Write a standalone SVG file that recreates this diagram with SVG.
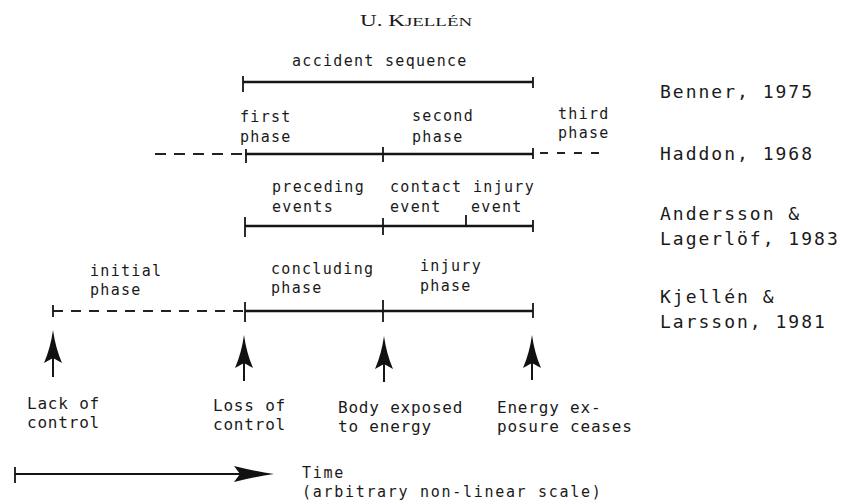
<svg xmlns="http://www.w3.org/2000/svg" width="844" height="504" viewBox="0 0 844 504">
<style>
  .t { font-family: "DejaVu Sans Mono", "Liberation Mono", monospace; fill: #1a1a1a; }
  .ph { font-size: 15px; letter-spacing: 1.3px; }
  .ev { font-size: 16px; letter-spacing: 0.8px; }
  .tm { font-size: 15px; letter-spacing: 1.7px; }
  .au { font-size: 18px; letter-spacing: 2px; }
  .ttl { font-family: "Liberation Serif", "Times New Roman", serif; fill: #1a1a1a; }
  .solid { stroke: #151515; stroke-width: 2.6; fill: none; }
  .dash { stroke: #222; stroke-width: 2; fill: none; }
  .tick { stroke: #151515; stroke-width: 1.8; fill: none; }
  .shaft { stroke: #151515; stroke-width: 2; fill: none; }
  .head { fill: #111; stroke: none; }
</style>
<defs>
  <path id="upHead" d="M0,0 Q2.5,18 9,33 L0,28 L-9,33 Q-2.5,18 0,0 Z"/>
</defs>
<rect width="844" height="504" fill="#ffffff"/>

<g id="title">
  <text class="ttl" x="360" y="26" font-size="16.5" textLength="45" lengthAdjust="spacingAndGlyphs">U. K</text>
  <text class="ttl" x="405" y="26" font-size="12" textLength="67" lengthAdjust="spacingAndGlyphs">JELLÉN</text>
</g>

<g id="connectors">
  <!-- Benner 1975 -->
  <line class="solid" x1="243" y1="82" x2="533" y2="82"/>
  <line class="tick" x1="243" y1="76" x2="243" y2="92"/>
  <line class="tick" x1="533" y1="77" x2="533" y2="88"/>
  <!-- Haddon 1968 -->
  <line class="dash" x1="155" y1="154" x2="243" y2="154" stroke-dasharray="11 8"/>
  <line class="solid" x1="245" y1="154" x2="533" y2="154"/>
  <line class="dash" x1="540" y1="153" x2="603" y2="153" stroke-dasharray="8 9"/>
  <line class="tick" x1="246" y1="149" x2="246" y2="163"/>
  <line class="tick" x1="383" y1="147" x2="383" y2="162"/>
  <line class="tick" x1="533" y1="148" x2="533" y2="159"/>
  <!-- Andersson & Lagerlöf 1983 -->
  <line class="solid" x1="245" y1="226" x2="533" y2="226" stroke-width="3"/>
  <line class="tick" x1="245" y1="217" x2="245" y2="237"/>
  <line class="tick" x1="383" y1="218" x2="383" y2="235"/>
  <line class="tick" x1="466" y1="215" x2="466" y2="226"/>
  <line class="tick" x1="533" y1="220" x2="533" y2="232"/>
  <!-- Kjellén & Larsson 1981 -->
  <line class="dash" x1="53" y1="311" x2="243" y2="311" stroke-dasharray="10 8"/>
  <line class="solid" x1="245" y1="311" x2="533" y2="311"/>
  <line class="tick" x1="53" y1="305" x2="53" y2="317"/>
  <line class="tick" x1="245" y1="302" x2="245" y2="322"/>
  <line class="tick" x1="383" y1="300" x2="383" y2="322"/>
  <line class="tick" x1="533" y1="303" x2="533" y2="318"/>
  <!-- event arrows -->
  <line class="shaft" x1="53" y1="356" x2="53" y2="377"/>
  <use href="#upHead" class="head" x="53" y="330"/>
  <line class="shaft" x1="244" y1="360" x2="244" y2="381"/>
  <use href="#upHead" class="head" x="244" y="335"/>
  <line class="shaft" x1="384" y1="361" x2="384" y2="382"/>
  <use href="#upHead" class="head" x="384" y="336"/>
  <line class="shaft" x1="532" y1="360" x2="532" y2="380"/>
  <use href="#upHead" class="head" x="532" y="335"/>
  <!-- time axis -->
  <line class="shaft" x1="15" y1="474" x2="245" y2="474"/>
  <line class="tick" x1="15" y1="467" x2="15" y2="483"/>
  <path class="head" d="M274,474 Q256,471.5 234,466 L240,474 L234,482 Q256,476.5 274,474 Z"/>
</g>

<g id="benner">
  <text class="t ph" x="292" y="66">accident sequence</text>
  <text class="t au" x="660" y="98">Benner, 1975</text>
</g>

<g id="haddon">
  <text class="t ph" x="240" y="122">first</text>
  <text class="t ph" x="240" y="142">phase</text>
  <text class="t ph" x="412" y="121">second</text>
  <text class="t ph" x="412" y="142">phase</text>
  <text class="t ph" x="558" y="119">third</text>
  <text class="t ph" x="558" y="138">phase</text>
  <text class="t au" x="660" y="160">Haddon, 1968</text>
</g>

<g id="andersson">
  <text class="t ph" x="272" y="192">preceding</text>
  <text class="t ph" x="272" y="212">events</text>
  <text class="t ph" x="390" y="192">contact</text>
  <text class="t ph" x="390" y="212">event</text>
  <text class="t ph" x="473" y="192">injury</text>
  <text class="t ph" x="471" y="212">event</text>
  <text class="t au" x="660" y="220">Andersson &amp;</text>
  <text class="t au" x="660" y="245">Lagerlöf, 1983</text>
</g>

<g id="kjellen">
  <text class="t ph" x="90" y="276">initial</text>
  <text class="t ph" x="90" y="295">phase</text>
  <text class="t ph" x="271" y="274">concluding</text>
  <text class="t ph" x="271" y="293">phase</text>
  <text class="t ph" x="420" y="271">injury</text>
  <text class="t ph" x="420" y="291">phase</text>
  <text class="t au" x="660" y="303">Kjellén &amp;</text>
  <text class="t au" x="660" y="328">Larsson, 1981</text>
</g>

<g id="event-lack">
  <text class="t ev" x="27" y="409">Lack of</text>
  <text class="t ev" x="27" y="428">control</text>
</g>
<g id="event-loss">
  <text class="t ev" x="213" y="411">Loss of</text>
  <text class="t ev" x="213" y="430">control</text>
</g>
<g id="event-body">
  <text class="t ev" x="338" y="413">Body exposed</text>
  <text class="t ev" x="338" y="432">to energy</text>
</g>
<g id="event-energy">
  <text class="t ev" x="497" y="413">Energy ex-</text>
  <text class="t ev" x="497" y="432">posure ceases</text>
</g>

<g id="time">
  <text class="t tm" x="302" y="478">Time</text>
  <text class="t tm" x="302" y="497">(arbitrary non-linear scale)</text>
</g>
</svg>
